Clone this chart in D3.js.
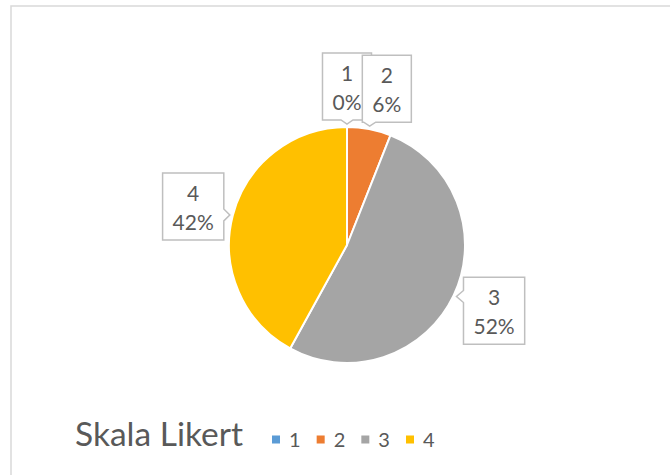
<!DOCTYPE html>
<html>
<head>
<meta charset="utf-8">
<script src="https://cdn.jsdelivr.net/npm/d3@7"></script>
<style>
  body { margin: 0; background: #fff; }
  text { font-family: Lato, "Open Sans", sans-serif; fill: #595959; }
</style>
</head>
<body>
<svg id="chart" width="670" height="475"></svg>
<script>
// data
const categories = ["1", "2", "3", "4"];
const percents = [0, 6, 52, 42];
const colors = ["#5B9BD5", "#ED7D31", "#A5A5A5", "#FFC000"];
const chartTitle = "Skala Likert";

const svg = d3.select("#chart");

// chart area border
svg.append("rect")
  .attr("x", 11).attr("y", 6)
  .attr("width", 700).attr("height", 500)
  .attr("fill", "#fff")
  .attr("stroke", "#d9d9d9")
  .attr("stroke-width", 1.5);

const cx = 347, cy = 245, radius = 118;

const pie = d3.pie().sort(null).value(d => d);
const arcs = pie(percents);
const arc = d3.arc().innerRadius(0).outerRadius(radius);

const g = svg.append("g").attr("transform", `translate(${cx},${cy})`);

g.selectAll("path.slice")
  .data(arcs)
  .join("path")
  .attr("class", "slice")
  .attr("d", arc)
  .attr("fill", (d, i) => colors[i])
  .attr("stroke", "#fff")
  .attr("stroke-width", 2)
  .attr("stroke-linejoin", "round");

// callout labels
const boxH = 67, pad = 10, wedge = 6;
const nudge = [0, 15, 0, 0]; // small horizontal shift, like excel does to avoid overlap

arcs.forEach((d, i) => {
  const a = (d.startAngle + d.endAngle) / 2;
  const ux = Math.sin(a), uy = -Math.cos(a);
  const tip = [ux * (radius + 3), uy * (radius + 3)];

  const lg = g.append("g");
  const box = lg.append("path");
  const t1 = lg.append("text").attr("text-anchor", "middle").attr("font-size", 21).text(categories[i]);
  const t2 = lg.append("text").attr("text-anchor", "middle").attr("font-size", 21).text(percents[i] + "%");
  const w = Math.max(t1.node().getComputedTextLength(), t2.node().getComputedTextLength()) + 2 * pad;

  let x0, y0, p;
  if (Math.abs(ux) > 0.5) {
    // side placement
    y0 = tip[1] - boxH * (0.5 - 0.5 * uy);
    if (ux > 0) {
      x0 = tip[0] + 7;
      const ty = tip[1];
      p = `M${x0},${y0}H${x0 + w}V${y0 + boxH}H${x0}V${ty + wedge}L${tip[0]},${ty}L${x0},${ty - wedge}Z`;
    } else {
      x0 = tip[0] - 6 - w;
      const ty = tip[1];
      const xr = x0 + w;
      p = `M${x0},${y0}H${xr}V${ty - wedge}L${tip[0]},${ty}L${xr},${ty + wedge}V${y0 + boxH}H${x0}Z`;
    }
  } else {
    // top placement
    const yb = tip[1] - 4;
    y0 = yb - boxH;
    x0 = tip[0] - w * (0.5 - 0.5 * ux) + nudge[i] - 13 * ux;
    const tx = tip[0];
    p = `M${x0},${y0}H${x0 + w}V${yb}H${tx + wedge}L${tx},${tip[1]}L${tx - wedge},${yb}H${x0}Z`;
  }
  box.attr("d", p)
    .attr("fill", "#fff")
    .attr("stroke", "#bfbfbf")
    .attr("stroke-width", 1.5);
  t1.attr("x", x0 + w / 2).attr("y", y0 + 28);
  t2.attr("x", x0 + w / 2).attr("y", y0 + 57);
});

// title
svg.append("text")
  .attr("x", 75).attr("y", 446)
  .attr("font-size", 33.5)
  .text(chartTitle);

// legend
const lx = d3.scalePoint().domain(categories).range([272, 406]);
const legend = svg.append("g");
legend.selectAll("rect")
  .data(categories)
  .join("rect")
  .attr("x", d => lx(d))
  .attr("y", 435.5)
  .attr("width", 8).attr("height", 8)
  .attr("fill", (d, i) => colors[i]);
legend.selectAll("text")
  .data(categories)
  .join("text")
  .attr("x", d => lx(d) + 17)
  .attr("y", 447)
  .attr("font-size", 20)
  .text(d => d);
</script>
</body>
</html>
